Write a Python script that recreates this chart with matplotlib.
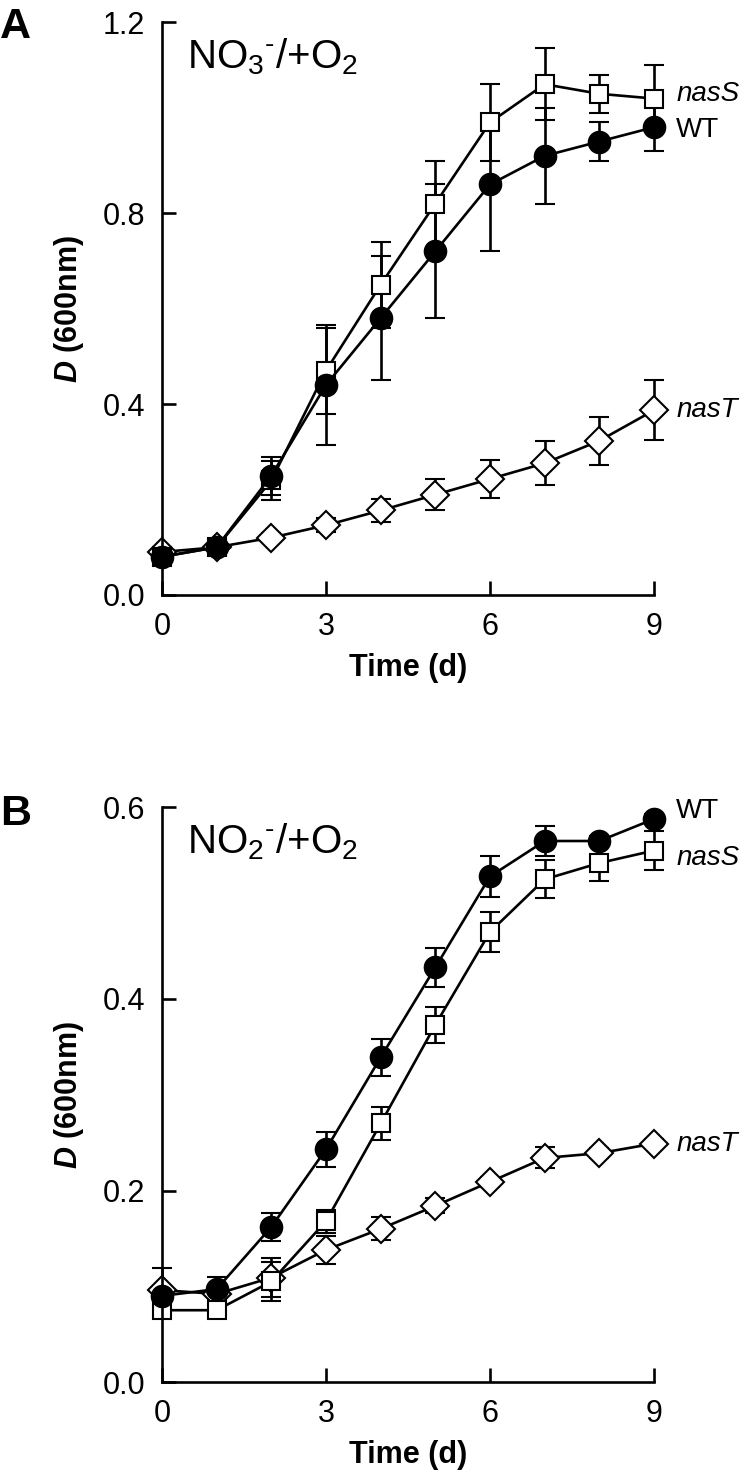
import matplotlib
matplotlib.use("Agg")
import matplotlib.pyplot as plt
import numpy as np

plt.rcParams['font.family'] = ['Liberation Sans', 'DejaVu Sans']
plt.rcParams['mathtext.fontset'] = 'custom'
plt.rcParams['mathtext.rm'] = 'Liberation Sans'
plt.rcParams['mathtext.it'] = 'Liberation Sans:italic'
plt.rcParams['mathtext.bf'] = 'Liberation Sans:bold'
plt.rcParams['mathtext.bfit'] = 'Liberation Sans:italic:bold'

days = [0, 1, 2, 3, 4, 5, 6, 7, 8, 9]

# painel A - NO3-/+O2
a_wt = [0.08, 0.10, 0.25, 0.44, 0.58, 0.72, 0.86, 0.92, 0.95, 0.98]
a_wt_err = [0.01, 0.01, 0.04, 0.125, 0.13, 0.14, 0.14, 0.10, 0.04, 0.05]
a_nass = [0.08, 0.10, 0.24, 0.47, 0.65, 0.82, 0.99, 1.07, 1.05, 1.04]
a_nass_err = [0.01, 0.01, 0.04, 0.09, 0.09, 0.09, 0.08, 0.075, 0.04, 0.07]
a_nast = [0.09, 0.10, 0.12, 0.146, 0.177, 0.21, 0.243, 0.276, 0.323, 0.387]
a_nast_err = [0.01, 0.01, 0.01, 0.015, 0.025, 0.032, 0.04, 0.046, 0.05, 0.063]

# painel B - NO2-/+O2
b_wt = [0.09, 0.097, 0.162, 0.243, 0.339, 0.433, 0.528, 0.565, 0.565, 0.588]
b_wt_err = [0.005, 0.013, 0.015, 0.018, 0.019, 0.02, 0.021, 0.016, 0.005, 0.005]
b_nass = [0.075, 0.075, 0.105, 0.168, 0.27, 0.373, 0.47, 0.525, 0.542, 0.555]
b_nass_err = [0.005, 0.005, 0.02, 0.012, 0.017, 0.019, 0.021, 0.02, 0.019, 0.02]
b_nast = [0.096, 0.092, 0.109, 0.138, 0.16, 0.184, 0.209, 0.234, 0.239, 0.249]
b_nast_err = [0.023, 0.005, 0.02, 0.015, 0.012, 0.008, 0.005, 0.011, 0.005, 0.005]

fig = plt.figure(figsize=(7.5, 14.8), dpi=100)
axA = fig.add_axes([0.216, 0.598, 0.656, 0.387])
axB = fig.add_axes([0.216, 0.0662, 0.656, 0.3882])


def serie(ax, y, err, marker, face, ms):
    ax.errorbar(days, y, yerr=err, color='black', lw=1.9, marker=marker, ms=ms,
                mfc=face, mec='black', mew=1.5, capsize=7.5, capthick=1.9,
                elinewidth=1.9, clip_on=False)


def eixos(ax, ymax, yticks, texto):
    ax.set_xlim(0, 9)
    ax.set_ylim(0, ymax)
    ax.set_xticks([0, 3, 6, 9])
    ax.set_yticks(yticks)
    ax.set_yticklabels(['%.1f' % v for v in yticks])
    for s in ['top', 'right']:
        ax.spines[s].set_visible(False)
    for s in ['left', 'bottom']:
        ax.spines[s].set_linewidth(1.9)
    ax.tick_params(axis='both', direction='in', length=10, width=1.9, labelsize=22)
    ax.tick_params(axis='x', pad=12)
    ax.tick_params(axis='y', pad=12)
    ax.set_xlabel('Time (d)', fontsize=22, fontweight='bold', labelpad=8)
    ax.set_ylabel(r'$\mathbfit{D}$ (600nm)', fontsize=22, fontweight='bold', labelpad=12)
    ax.text(0.05, 0.975, texto, transform=ax.transAxes, fontsize=29, va='top', ha='left')


serie(axA, a_nast, a_nast_err, 'D', 'white', 14)
serie(axA, a_nass, a_nass_err, 's', 'white', 13)
serie(axA, a_wt, a_wt_err, 'o', 'black', 15.5)
eixos(axA, 1.2, [0.0, 0.4, 0.8, 1.2], r'NO$_3$$^{\text{-}}$/+O$_2$')

serie(axB, b_nast, b_nast_err, 'D', 'white', 14)
serie(axB, b_nass, b_nass_err, 's', 'white', 13)
serie(axB, b_wt, b_wt_err, 'o', 'black', 15.5)
eixos(axB, 0.6, [0.0, 0.2, 0.4, 0.6], r'NO$_2$$^{\text{-}}$/+O$_2$')

# rotulos das curvas
rotA = [('nasS', a_nass[-1] + 0.01, 'italic'), ('WT', a_wt[-1] - 0.005, 'normal'),
        ('nasT', a_nast[-1], 'italic')]
rotB = [('WT', b_wt[-1] + 0.008, 'normal'), ('nasS', b_nass[-1] - 0.008, 'italic'),
        ('nasT', b_nast[-1], 'italic')]
for ax, rot in [(axA, rotA), (axB, rotB)]:
    for nome, yv, estilo in rot:
        ax.annotate(nome, (9, yv), xytext=(16, 0), textcoords='offset points',
                    fontsize=20, fontstyle=estilo, va='center', ha='left',
                    annotation_clip=False)

fig.text(0.0, 0.982, 'A', fontsize=31, fontweight='bold', va='center', ha='left')
fig.text(0.0, 0.45, 'B', fontsize=31, fontweight='bold', va='center', ha='left')

fig.savefig('out.png', dpi=100)
